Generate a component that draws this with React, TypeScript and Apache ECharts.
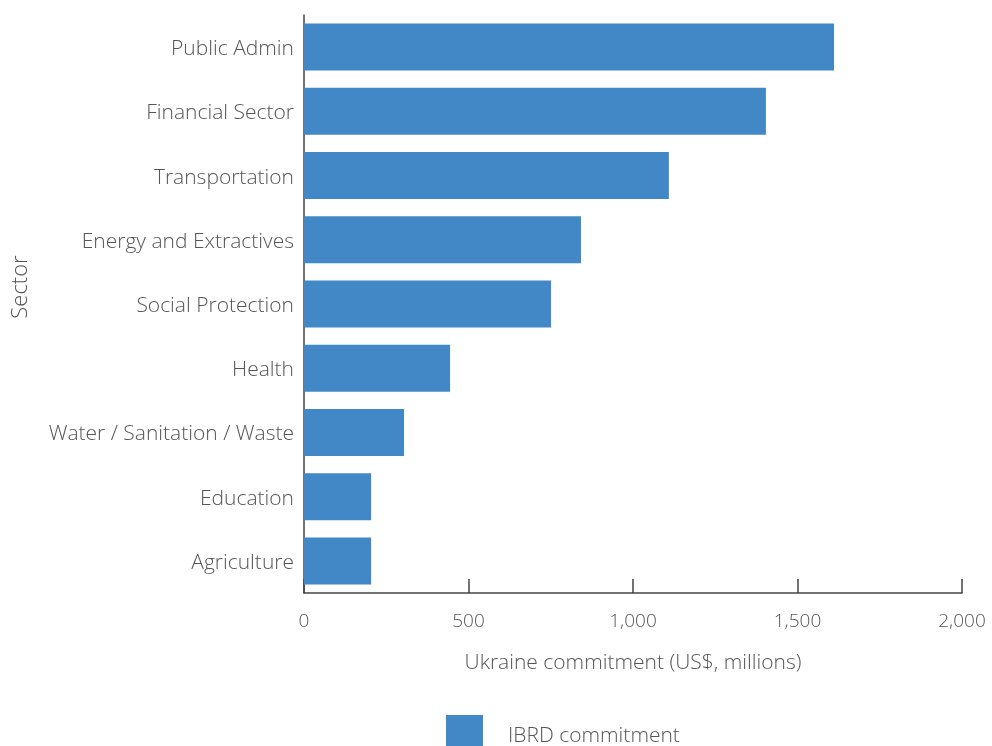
import React, { useEffect, useRef } from "react";
import * as echarts from "echarts";

const categories = [
  "Public Admin",
  "Financial Sector",
  "Transportation",
  "Energy and Extractives",
  "Social Protection",
  "Health",
  "Water / Sanitation / Waste",
  "Education",
  "Agriculture",
];
const values = [1611, 1404, 1109, 842, 751, 444, 304, 204, 204];
const xTicks = { min: 0, max: 2000, interval: 500 };

const FONT = "'Open Sans'";
const TEXT = "#555555";
const BAR = "#4287c6";

export default function App() {
  const ref = useRef<HTMLDivElement>(null);
  useEffect(() => {
    const chart = echarts.init(ref.current!, null, { renderer: "svg" });
    chart.setOption({
      animation: false,
      textStyle: { fontFamily: FONT, color: TEXT, fontWeight: 300 },
      grid: { left: 304, right: 30, top: 15, bottom: 153, containLabel: false },
      legend: {
        data: ["IBRD commitment"],
        top: 715,
        left: 446,
        padding: 0,
        itemWidth: 37,
        itemHeight: 37,
        icon: "rect",
        textStyle: { fontFamily: FONT, fontSize: 21, fontWeight: 300, color: TEXT, padding: [0, 0, 0, 20] },
      },
      xAxis: {
        type: "value",
        min: xTicks.min,
        max: xTicks.max,
        interval: xTicks.interval,
        name: "Ukraine commitment (US$, millions)",
        nameLocation: "middle",
        nameGap: 57,
        nameTextStyle: { fontFamily: FONT, fontSize: 21, fontWeight: 300, color: TEXT },
        axisLine: { show: true, lineStyle: { color: "#444", width: 1.5 } },
        axisTick: { show: true, inside: true, length: 14, lineStyle: { color: "#444", width: 1.5 } },
        splitLine: { show: false },
        axisLabel: {
          fontFamily: FONT,
          fontSize: 19,
          fontWeight: 300,
          color: TEXT,
          margin: 17,
          formatter: (v: number) => v.toLocaleString("en-US"),
        },
      },
      yAxis: {
        type: "category",
        data: categories,
        inverse: true,
        axisLine: { show: true, lineStyle: { color: "#444", width: 1.5 } },
        axisTick: { show: false },
        axisLabel: { fontFamily: FONT, fontSize: 21, fontWeight: 300, color: TEXT, margin: 10 },
      },
      graphic: [
        {
          type: "text",
          x: 18,
          y: 287,
          rotation: Math.PI / 2,
          style: {
            text: "Sector",
            fontFamily: FONT,
            fontSize: 22,
            fontWeight: 300,
            fill: TEXT,
            align: "center",
            verticalAlign: "middle",
          },
        },
      ],
      series: [
        {
          name: "IBRD commitment",
          type: "bar",
          data: values,
          barWidth: 47,
          itemStyle: { color: BAR },
        },
      ],
    });
    return () => chart.dispose();
  }, []);
  return <div ref={ref} style={{ position: "fixed", left: 0, top: 0, width: 992, height: 746 }} />;
}
